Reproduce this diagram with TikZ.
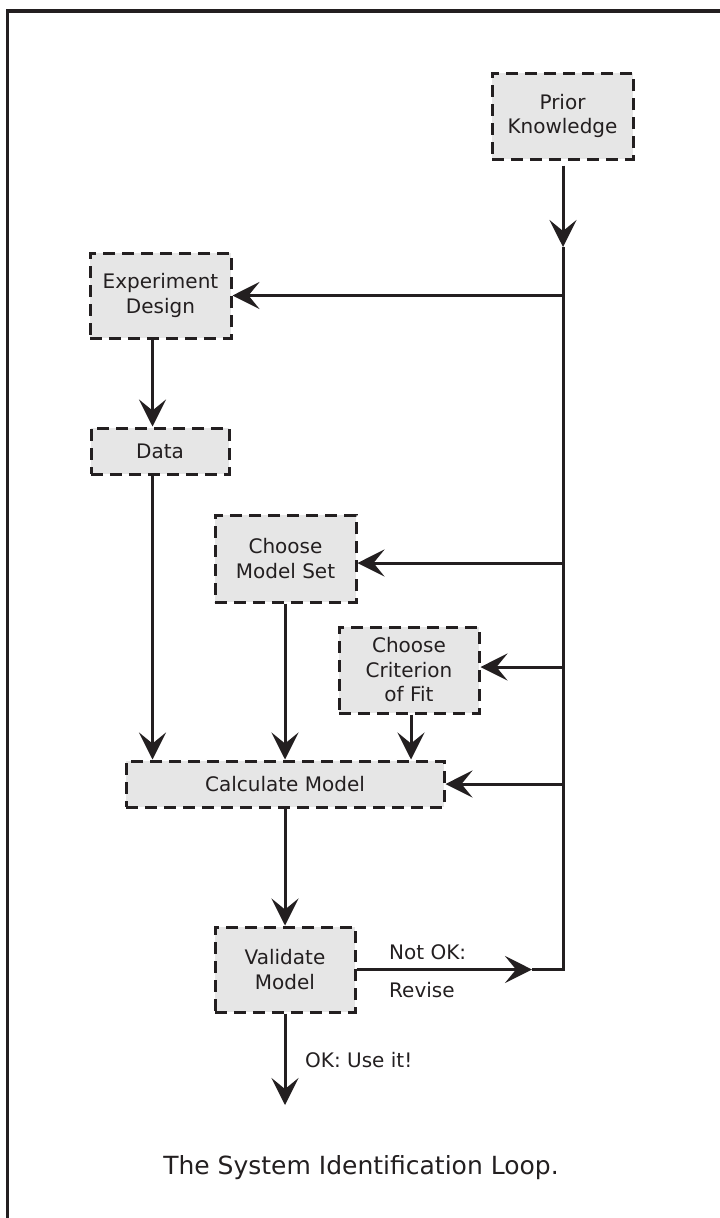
\documentclass[tikz,border=0pt]{standalone}
\usepackage{fontspec}
\setmainfont{DejaVu Sans}
\usetikzlibrary{arrows.meta}
\definecolor{ink}{HTML}{231F20}
\definecolor{boxfill}{HTML}{E6E6E6}
\tikzset{
  stepbox/.style={draw=ink, fill=boxfill, line width=3pt, dash pattern=on 12pt off 7pt,
    align=center, inner sep=0pt, text=ink, font=\fontsize{20}{24.5}\selectfont},
  conn/.style={draw=ink, line width=3pt},
  arr/.style={conn, -{Stealth[length=27pt, width=27pt, inset=11pt]}},
  lbl/.style={text=ink, font=\fontsize{20}{24}\selectfont, anchor=west, inner sep=0pt}
}
\begin{document}
\begin{tikzpicture}[x=1pt, y=-1pt]
\useasboundingbox (0,0) rectangle (720,1218);
% outer frame (extends past right and bottom)
\draw[ink, line width=3.5pt] (7.7,1260) -- (7.7,11) -- (760,11);

% boxes
\node[stepbox, minimum width=141pt, minimum height=86pt] (prior) at (562.5,116) {Prior\\Knowledge};
\node[stepbox, minimum width=141pt, minimum height=85pt] (ed) at (160.5,295.5) {Experiment\\Design};
\node[stepbox, minimum width=138pt, minimum height=46pt] (data) at (160,451) {Data};
\node[stepbox, minimum width=141pt, minimum height=87pt] (cms) at (285.5,558.5) {Choose\\Model Set};
\node[stepbox, minimum width=140pt, minimum height=86pt] (ccf) at (409,670) {Choose\\Criterion\\of Fit};
\node[stepbox, minimum width=318pt, minimum height=46pt] (calc) at (285,784) {Calculate Model};
\node[stepbox, minimum width=140pt, minimum height=85pt] (val) at (285,969.5) {Validate\\Model};

% helper coordinates
\coordinate (colA) at (152.5,0);
\coordinate (colC) at (411,0);
\coordinate (trunk) at (563,0);
\coordinate (pk) at (563,247);
\coordinate (jV) at (563,969.5);
\coordinate (nok) at (532,969.5);
\coordinate (okend) at (285,1105);
\coordinate (tED) at (563,295.5);
\coordinate (tCMS) at (563,563);
\coordinate (tCCF) at (563,667);
\coordinate (tCalc) at (563,784);

% trunk
\draw[arr] ([yshift=-5pt]prior.south -| trunk) -- (pk);
\draw[conn] (pk) -- (jV) -- (nok);
\draw[arr] (val.east) -- (nok);

% feeds from trunk
\draw[arr] (tED) -- (ed.east);
\draw[arr] (tCMS) -- (cms.east |- tCMS);
\draw[arr] (tCCF) -- (ccf.east |- tCCF);
\draw[arr] (tCalc) -- (calc.east);

% left column flow
\draw[arr] (ed.south -| colA) -- (data.north -| colA);
\draw[arr] (data.south -| colA) -- (calc.north -| colA);
\draw[arr] (cms.south -| calc.north) -- (calc.north);
\draw[arr] (ccf.south -| colC) -- (calc.north -| colC);
\draw[arr] (calc.south) -- (val.north);
\draw[arr] (val.south) -- (okend);

% labels
\node[lbl] (notok) at (389,952) {Not OK:};
\node[lbl] (revise) at (389,990) {Revise};
\node[lbl] (okuse) at (305,1060) {OK: Use it!};
\node[text=ink, font=\fontsize{25}{30}\selectfont, inner sep=0pt] (caption) at (361,1168) {The System Identification Loop.};
\end{tikzpicture}
\end{document}
